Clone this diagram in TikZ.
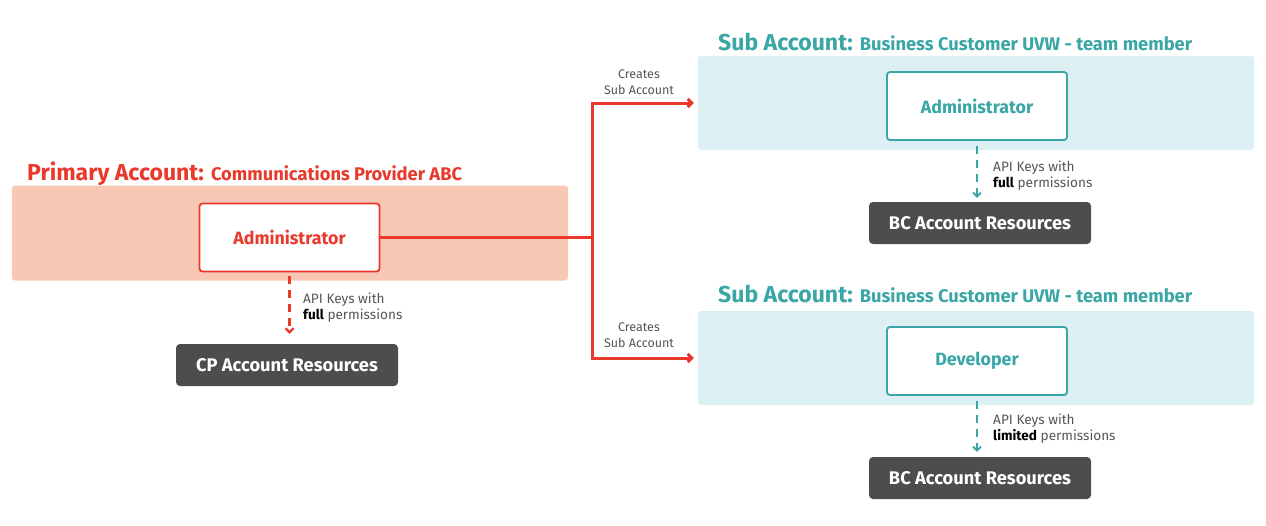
\documentclass[tikz,border=0pt]{standalone}
\usepackage{fontspec}
\setmainfont{Fira Sans}
\usetikzlibrary{positioning, arrows.meta}
\definecolor{primred}{HTML}{E8392C}
\definecolor{primband}{HTML}{F8C8B4}
\definecolor{subteal}{HTML}{3AA6A6}
\definecolor{subband}{HTML}{DCF0F3}
\definecolor{resgray}{HTML}{4D4D4D}
\definecolor{notegray}{HTML}{555555}
\begin{document}
\begin{tikzpicture}[x=1pt,y=-1pt,>={Straight Barb[length=4pt,width=8pt]},
  band/.style={draw=none,rounded corners=3pt,minimum width=556pt,minimum height=95pt},
  rolebox/.style={fill=white,line width=1.8pt,rounded corners=3pt,minimum width=180pt,minimum height=68pt,font=\fontsize{17.8}{17.8}\selectfont\bfseries},
  resbox/.style={fill=resgray,text=white,rounded corners=4pt,minimum width=222pt,minimum height=42pt,font=\fontsize{18.3}{18.3}\selectfont\bfseries},
  title/.style={anchor=base west,inner sep=0pt},
  note/.style={text=notegray,inner sep=0pt,font=\fontsize{12.5}{16}\selectfont},
  keynote/.style={note,anchor=west,align=left,font=\fontsize{13.6}{16}\selectfont},
  redline/.style={draw=primred,line width=3pt},
  keyarrow/.style={dashed,dash pattern=on 8pt off 6pt,->},
  ]
    % canvas
    \useasboundingbox (0,0) rectangle (1266,525);
    % primary account
    \node[band,fill=primband] (pband) at (290,233) {};
    \node[title,text=primred] (ptitle) at (27,180) {{\fontsize{23}{23}\selectfont\bfseries Primary Account:}\hspace{7pt}{\fontsize{18.3}{18.3}\selectfont\bfseries Communications Provider ABC}};
    \node[rolebox,draw=primred,text=primred] (padmin) at (289.5,237.5) {Administrator};
    \node[resbox] (pres) at (287,365) {CP Account Resources};
    \draw[keyarrow,draw=primred,line width=2.2pt,shorten <=4pt,shorten >=10pt] (padmin.south) -- (padmin.south |- pres.north);
    \node[keynote] (pkeys) at (303,308) {API Keys with\\{\color{black}\bfseries full} permissions};
    % sub account with administrator
    \node[band,fill=subband,minimum height=94pt] (sband1) at (976,103) {};
    \node[title,text=subteal] (stitle1) at (718,50) {{\fontsize{23}{23}\selectfont\bfseries Sub Account:}\hspace{7pt}{\fontsize{18.3}{18.3}\selectfont\bfseries Business Customer UVW - team member}};
    \node[rolebox,draw=subteal,text=subteal] (sadmin) at (977,106) {Administrator};
    \node[resbox] (sres1) at (980,223) {BC Account Resources};
    \draw[keyarrow,draw=subteal,line width=1.8pt,shorten <=5pt,shorten >=4pt] (sadmin.south) -- (sadmin.south |- sres1.north);
    \node[keynote] (skeys1) at (993,176) {API Keys with\\{\color{black}\bfseries full} permissions};
    % sub account with developer
    \node[band,fill=subband,minimum height=94pt] (sband2) at (976,358) {};
    \node[title,text=subteal] (stitle2) at (718,302) {{\fontsize{23}{23}\selectfont\bfseries Sub Account:}\hspace{7pt}{\fontsize{18.3}{18.3}\selectfont\bfseries Business Customer UVW - team member}};
    \node[rolebox,draw=subteal,text=subteal] (sdev) at (977,361) {Developer};
    \node[resbox] (sres2) at (980,478) {BC Account Resources};
    \draw[keyarrow,draw=subteal,line width=1.8pt,shorten <=5pt,shorten >=5pt] (sdev.south) -- (sdev.south |- sres2.north);
    \node[keynote] (skeys2) at (993,429) {API Keys with\\{\color{black}\bfseries limited} permissions};
    % creates sub accounts
    \coordinate (split) at (592,237.5);
    \draw[redline] (padmin.east) -- (split);
    \draw[redline,->,shorten >=4pt] (split) |- (sband1.west);
    \draw[redline,->,shorten >=4pt] (split) |- (sband2.west);
    \node[note,align=center] (create1) at (639,82) {Creates\\Sub Account};
    \node[note,align=center] (create2) at (639,335) {Creates\\Sub Account};
\end{tikzpicture}
\end{document}
